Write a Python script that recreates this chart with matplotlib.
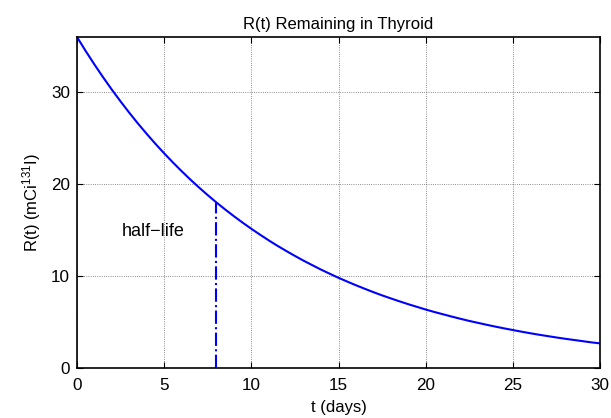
import numpy as np
import matplotlib
matplotlib.use('Agg')
import matplotlib.pyplot as plt

plt.rcParams['font.family'] = ['Liberation Sans', 'DejaVu Sans']
plt.rcParams['mathtext.fontset'] = 'custom'
plt.rcParams['mathtext.rm'] = 'Liberation Sans'
plt.rcParams['mathtext.it'] = 'Liberation Sans:italic'

# values (every half day)
t_days = [i * 0.5 for i in range(61)]
remaining = [36.00, 34.47, 33.01, 31.61, 30.27, 28.99, 27.76, 26.58, 25.46, 24.38,
             23.35, 22.36, 21.41, 20.50, 19.63, 18.80, 18.00, 17.24, 16.51, 15.81,
             15.14, 14.50, 13.88, 13.29, 12.73, 12.19, 11.67, 11.18, 10.70, 10.25,
             9.81, 9.40, 9.00, 8.62, 8.25, 7.90, 7.57, 7.25, 6.94, 6.65,
             6.36, 6.09, 5.84, 5.59, 5.35, 5.12, 4.91, 4.70, 4.50, 4.31,
             4.13, 3.95, 3.78, 3.62, 3.47, 3.32, 3.18, 3.05, 2.92, 2.79, 2.68]
half_life_t = 8
half_life_r = 18.0

fig = plt.figure(figsize=(6.11, 4.18), dpi=100)
ax = fig.add_axes([77/611, 50/418, 523/611, 331/418])

ax.plot(t_days, remaining, color='#0000ff', lw=1.5)
ax.plot([half_life_t, half_life_t], [0, half_life_r], color='#0000ff', lw=1.5, ls='-.')
ax.text(2.55, 14.8, 'half\u2212life', fontsize=13, ha='left', va='center')

ax.set_xlim(0, 30)
ax.set_ylim(0, 36)
ax.set_xticks([0, 5, 10, 15, 20, 25, 30])
ax.set_yticks([0, 10, 20, 30])
ax.grid(True, ls=':', color='k', lw=0.6, alpha=0.6)
ax.tick_params(direction='in', top=True, right=True, length=4, width=0.8, labelsize=12.3)
ax.tick_params(axis='x', pad=7)
ax.tick_params(axis='y', pad=5)
for s in ax.spines.values():
    s.set_linewidth(1.2)

ax.set_title('R(t) Remaining in Thyroid', fontsize=12, pad=6)
ax.set_xlabel('t (days)', fontsize=12, labelpad=5)
ax.set_ylabel('R(t) (mCi$^{131}$I)', fontsize=12, labelpad=6)

fig.savefig('out.png', dpi=100)
